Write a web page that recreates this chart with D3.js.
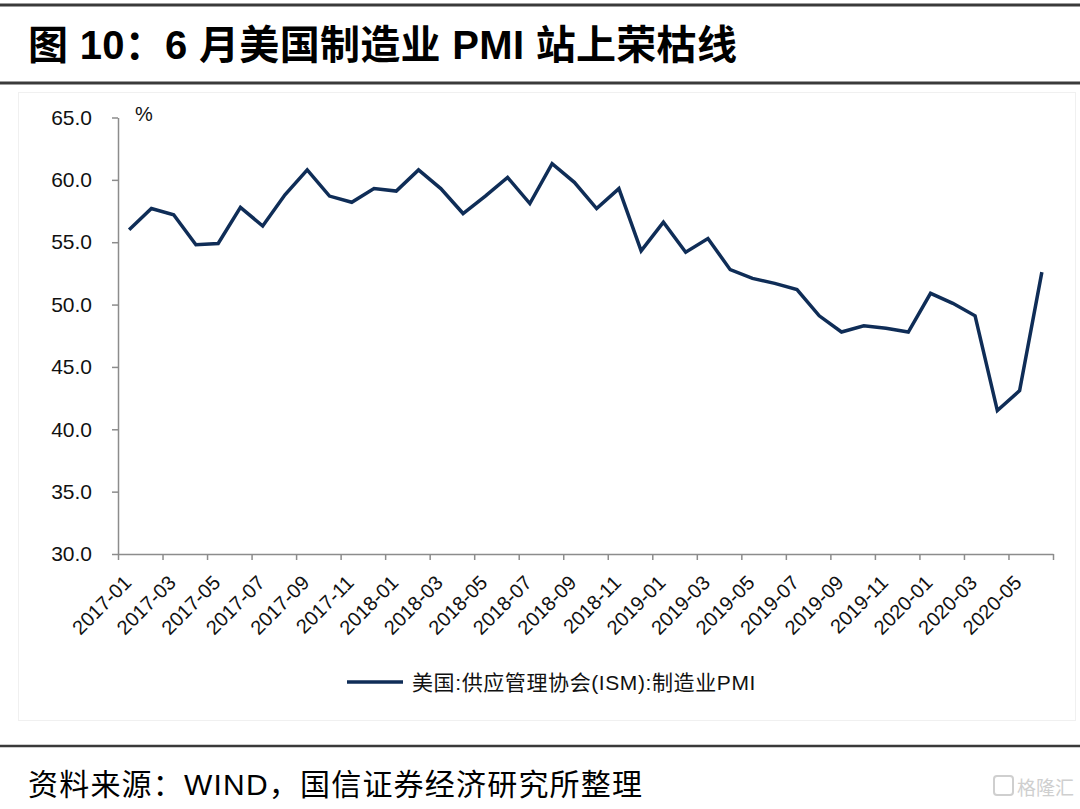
<!DOCTYPE html>
<html>
<head>
<meta charset="utf-8">
<script src="https://cdnjs.cloudflare.com/ajax/libs/d3/7.8.5/d3.min.js"></script>
<style>
  html, body { margin: 0; padding: 0; background: #fff; }
  svg { display: block; }
  text { font-family: "Liberation Sans", Arial, "Noto Sans CJK SC", sans-serif; }
</style>
</head>
<body>
<svg id="chart" width="1080" height="809"></svg>
<script>
// ---- Data ----
const months = [
  "2017-01","2017-02","2017-03","2017-04","2017-05","2017-06","2017-07","2017-08","2017-09","2017-10","2017-11","2017-12",
  "2018-01","2018-02","2018-03","2018-04","2018-05","2018-06","2018-07","2018-08","2018-09","2018-10","2018-11","2018-12",
  "2019-01","2019-02","2019-03","2019-04","2019-05","2019-06","2019-07","2019-08","2019-09","2019-10","2019-11","2019-12",
  "2020-01","2020-02","2020-03","2020-04","2020-05","2020-06"
];
const pmiValues = [
  56.0, 57.7, 57.2, 54.8, 54.9, 57.8, 56.3, 58.8, 60.8, 58.7, 58.2, 59.3,
  59.1, 60.8, 59.3, 57.3, 58.7, 60.2, 58.1, 61.3, 59.8, 57.7, 59.3, 54.3,
  56.6, 54.2, 55.3, 52.8, 52.1, 51.7, 51.2, 49.1, 47.8, 48.3, 48.1, 47.8,
  50.9, 50.1, 49.1, 41.5, 43.1, 52.6
];
const yTicks = [30, 35, 40, 45, 50, 55, 60, 65];
const seriesName = "美国:供应管理协会(ISM):制造业PMI";
const titleText = "图 10：6 月美国制造业 PMI 站上荣枯线";
const sourceText = "资料来源：WIND，国信证券经济研究所整理";
const unitLabel = "%";

// ---- Layout ----
const svg = d3.select("#chart");
const plot = { left: 118, right: 1053, top: 117.5, bottom: 554 };
const lineColor = "#0f2d57";
const axisColor = "#8c8c8c";

// frame & rules
svg.append("rect").attr("x", 18.5).attr("y", 92.5).attr("width", 1057).attr("height", 628)
  .attr("fill", "none").attr("stroke", "#f0f0f0").attr("stroke-width", 1);
svg.append("line").attr("x1", 0).attr("x2", 1080).attr("y1", 5).attr("y2", 5)
  .attr("stroke", "#3a3a3a").attr("stroke-width", 3);
svg.append("line").attr("x1", 0).attr("x2", 1080).attr("y1", 83).attr("y2", 83)
  .attr("stroke", "#3a3a3a").attr("stroke-width", 3);
svg.append("line").attr("x1", 0).attr("x2", 1080).attr("y1", 746).attr("y2", 746)
  .attr("stroke", "#3a3a3a").attr("stroke-width", 2.5);

// title
svg.append("text").attr("x", 28).attr("y", 45).attr("dominant-baseline", "central")
  .attr("font-size", 40).attr("font-weight", "bold").attr("fill", "#000")
  .attr("letter-spacing", 0.3)
  .style("font-family", "'Liberation Sans', 'Noto Sans CJK SC', sans-serif")
  .text(titleText);

// source
svg.append("text").attr("x", 28).attr("y", 784).attr("dominant-baseline", "central")
  .attr("font-size", 30).attr("fill", "#000").attr("letter-spacing", 1.2)
  .style("font-family", "'Liberation Sans', 'Noto Sans CJK SC', sans-serif")
  .text(sourceText);

// watermark
const wm = svg.append("g").attr("opacity", 0.6);
wm.append("rect").attr("x", 994).attr("y", 776).attr("width", 19).attr("height", 19).attr("rx", 3)
  .attr("fill", "none").attr("stroke", "#b0b0b0").attr("stroke-width", 2);
wm.append("text").attr("x", 1017).attr("y", 786).attr("dominant-baseline", "central")
  .attr("font-size", 19).attr("fill", "#b0b0b0")
  .style("font-family", "'Noto Sans CJK SC', sans-serif").text("格隆汇");

// ---- Scales ----
const x = d3.scaleLinear().domain([0, months.length]).range([plot.left, plot.right]);
const y = d3.scaleLinear().domain([30, 65]).range([plot.bottom, plot.top]);

// y axis
const yAxis = svg.append("g").attr("transform", `translate(${plot.left},0)`)
  .call(d3.axisLeft(y).tickValues(yTicks).tickFormat(d3.format(".1f")).tickSizeInner(6).tickSizeOuter(0).tickPadding(20));
yAxis.select(".domain").attr("stroke", axisColor).attr("stroke-width", 1.5);
yAxis.selectAll(".tick line").attr("stroke", axisColor).attr("stroke-width", 1.5);
yAxis.selectAll(".tick text").attr("font-size", 21).attr("fill", "#111")
  .style("font-family", "'Liberation Sans', Arial, sans-serif");

// x axis
const xTickVals = d3.range(0, months.length + 1, 2);
const xAxis = svg.append("g").attr("transform", `translate(0,${plot.bottom})`)
  .call(d3.axisBottom(x).tickValues(xTickVals)
    .tickFormat(i => i < months.length ? months[i] : "")
    .tickSizeInner(6).tickSizeOuter(0));
xAxis.select(".domain").attr("stroke", axisColor).attr("stroke-width", 1.5);
xAxis.selectAll(".tick line").attr("stroke", axisColor).attr("stroke-width", 1.5);
xAxis.selectAll(".tick text")
  .attr("font-size", 20).attr("fill", "#111")
  .style("font-family", "'Liberation Sans', Arial, sans-serif")
  .attr("text-anchor", "end")
  .attr("dy", null).attr("y", null)
  .attr("transform", "translate(14,30) rotate(-45)");

// unit label
svg.append("text").attr("x", 135).attr("y", 114).attr("dominant-baseline", "central")
  .attr("font-size", 20).attr("fill", "#111").text(unitLabel);

// line
const line = d3.line().x((d, i) => x(i + 0.5)).y(d => y(d));
svg.append("path").datum(pmiValues)
  .attr("fill", "none").attr("stroke", lineColor).attr("stroke-width", 3.5)
  .attr("stroke-linejoin", "miter").attr("d", line);

// legend
const lg = svg.append("g");
lg.append("line").attr("x1", 347).attr("x2", 403).attr("y1", 682).attr("y2", 682)
  .attr("stroke", lineColor).attr("stroke-width", 3.5);
lg.append("text").attr("x", 412).attr("y", 682).attr("dominant-baseline", "central")
  .attr("font-size", 21).attr("fill", "#111").attr("letter-spacing", 0.6)
  .style("font-family", "'Liberation Sans', 'Noto Sans CJK SC', sans-serif")
  .text(seriesName);
</script>
</body>
</html>
